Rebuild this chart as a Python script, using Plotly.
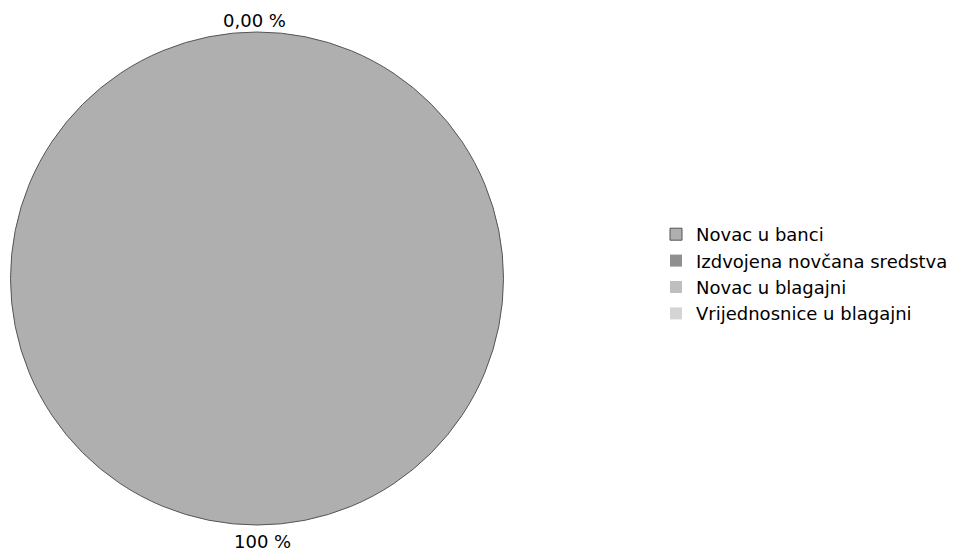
import plotly.graph_objects as go

categories = ["Novac u banci", "Izdvojena novčana sredstva", "Novac u blagajni", "Vrijednosnice u blagajni"]
values = [100, 0, 0, 0]
colors = ["#afafaf", "#8f8f8f", "#bfbfbf", "#d4d4d4"]

W, H = 968, 552
FONT = "DejaVu Sans"

def fmt(v):
    total = sum(values)
    p = 100.0 * v / total
    if abs(p - round(p)) < 1e-9 and p != 0:
        return f"{int(round(p))} %"
    return f"{p:.2f}".replace(".", ",") + " %"

fig = go.Figure(go.Pie(
    labels=categories,
    values=values,
    sort=False,
    direction="clockwise",
    rotation=0,
    marker=dict(colors=colors,
                line=dict(color="#555555", width=[1 if v > 0 else 0 for v in values])),
    textinfo="none",
    hoverinfo="label+percent",
    domain=dict(x=[10 / W, 504 / W], y=[(H - 525) / H, (H - 32) / H]),
    showlegend=True,
))

# percentage labels: zero slices at top (start), full slice at bottom (its middle)
zero_label = fmt(values[1])
full_label = fmt(values[0])
fig.add_annotation(x=255 / W, y=1 - 20 / H, xref="paper", yref="paper",
                   xanchor="center", yanchor="middle",
                   text=zero_label, showarrow=False,
                   font=dict(family=FONT, size=18, color="#000000"))
fig.add_annotation(x=262 / W, y=1 - 541 / H, xref="paper", yref="paper",
                   xanchor="center", yanchor="middle",
                   text=full_label, showarrow=False,
                   font=dict(family=FONT, size=18, color="#000000"))

fig.update_layout(
    width=W, height=H,
    margin=dict(l=0, r=0, t=0, b=0),
    paper_bgcolor="#ffffff",
    plot_bgcolor="#ffffff",
    font=dict(family=FONT, size=18, color="#000000"),
    legend=dict(x=656 / W, y=1 - 216 / H, xanchor="left", yanchor="top",
                bgcolor="rgba(0,0,0,0)", borderwidth=0,
                font=dict(family=FONT, size=18, color="#000000"),
                itemclick=False, itemdoubleclick=False),
)

fig.write_html("out.html", config={"displayModeBar": False},
               post_script="document.body.style.margin='0';")
